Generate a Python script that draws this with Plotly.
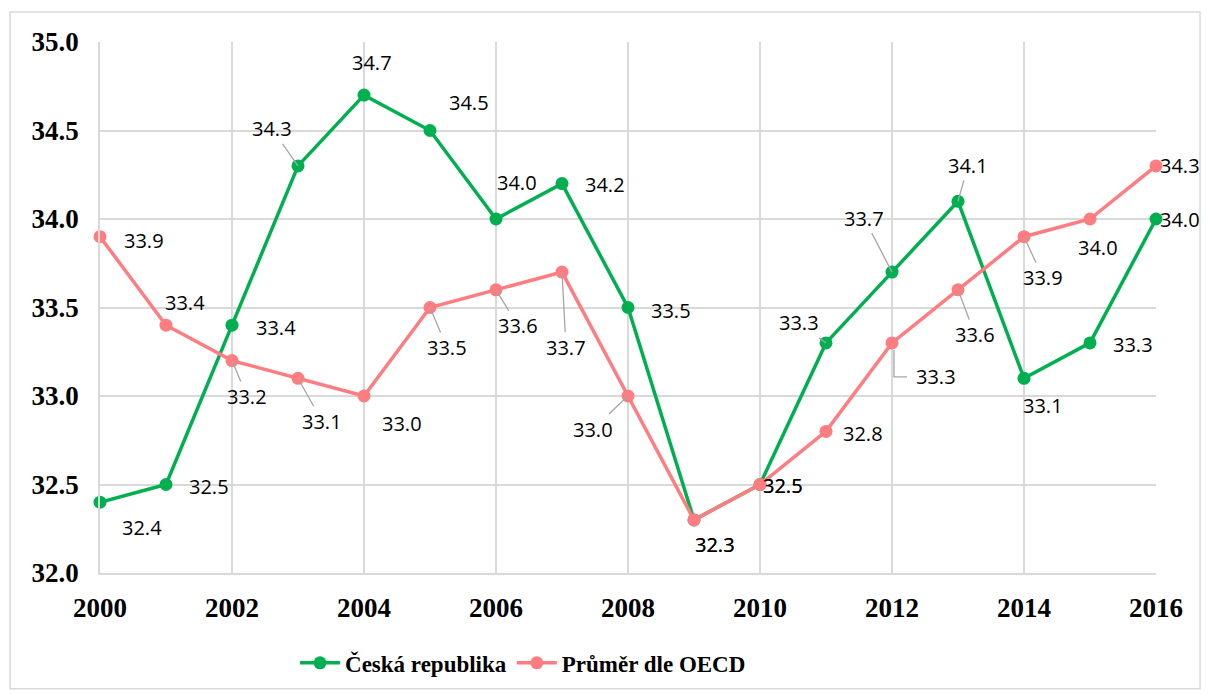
import plotly.graph_objects as go

years = list(range(2000, 2017))
cz = [32.4, 32.5, 33.4, 34.3, 34.7, 34.5, 34.0, 34.2, 33.5, 32.3, 32.5, 33.3, 33.7, 34.1, 33.1, 33.3, 34.0]
oecd = [33.9, 33.4, 33.2, 33.1, 33.0, 33.5, 33.6, 33.7, 33.0, 32.3, 32.5, 32.8, 33.3, 33.6, 33.9, 34.0, 34.3]
names = ["Česká republika", "Průměr dle OECD"]
colors = ["#00B050", "#FF7C80"]

# label placement (pixel offsets dx, dy-down, leader: 0 none, 1 straight, 2 elbow)
cz_pos = [(42, 25, 0), (43, 2, 0), (44, 2, 0), (-26, -37, 1), (8, -33, 0), (39, -28, 0),
          (21, -37, 0), (43, 1, 0), (43, 3, 0), (21, 25, 0), (23, 1, 0), (-27, -20, 1),
          (-28, -54, 1), (10, -36, 1), (19, 27, 0), (43, 2, 0), (24, 0, 0)]
oecd_pos = [(44, 4, 0), (19, -23, 0), (15, 36, 1), (24, 43, 1), (38, 27, 0), (17, 40, 1),
            (22, 36, 1), (4, 75, 1), (-35, 33, 1), (21, 25, 0), (23, 1, 0), (37, 2, 0),
            (44, 34, 2), (17, 45, 1), (19, 41, 1), (8, 28, 0), (24, 0, 0)]

fig = go.Figure()
for vals, name, col in [(cz, names[0], colors[0]), (oecd, names[1], colors[1])]:
    fig.add_trace(go.Scatter(x=years, y=vals, name=name, mode="lines+markers",
                             line=dict(color=col, width=3.5),
                             marker=dict(color=col, size=13), cliponaxis=False))

ann = []
shapes = [dict(type="rect", xref="paper", yref="paper",
               x0=-0.0852, x1=1.0417, y0=-0.218, y1=1.0564,
               line=dict(color="#D9D9D9", width=1.5))]
lab_font = dict(family="Open Sans", size=20, color="#000000")
for vals, pos in [(cz, cz_pos), (oecd, oecd_pos)]:
    for yr, v, (dx, dy, lead) in zip(years, vals, pos):
        txt = f"{v:.1f}"
        if lead == 1:
            ann.append(dict(x=yr, y=v, xref="x", yref="y", text=txt, showarrow=True,
                            ax=dx, ay=dy, axref="pixel", ayref="pixel", arrowhead=0,
                            arrowwidth=1.3, arrowcolor="#A6A6A6", standoff=0,
                            font=lab_font))
        else:
            ann.append(dict(x=yr, y=v, xref="x", yref="y", text=txt, showarrow=False,
                            xshift=dx, yshift=-dy, font=lab_font))
            if lead == 2:
                shapes.append(dict(type="path", xref="x", yref="y", xsizemode="pixel",
                                   ysizemode="pixel", xanchor=yr, yanchor=v,
                                   path=f"M 2 -7 L 2 {-dy} L {dx - 29} {-dy}",
                                   line=dict(color="#A6A6A6", width=1.3)))

fig.update_layout(
    width=1201, height=687,
    margin=dict(l=92, r=53, t=34, b=121),
    paper_bgcolor="white", plot_bgcolor="white",
    annotations=ann,
    shapes=shapes,
    xaxis=dict(range=[2000, 2016], tickmode="array", tickvals=list(range(2000, 2017, 2)),
               showgrid=True, gridcolor="#D9D9D9", gridwidth=1.5,
               showline=True, linecolor="#D9D9D9", linewidth=1.5, zeroline=False,
               ticks="", ticklabelstandoff=10,
               tickfont=dict(family="Liberation Serif", size=27, color="#000000",
                             weight="bold")),
    yaxis=dict(range=[32, 35], tickmode="array", tickvals=[32, 32.5, 33, 33.5, 34, 34.5, 35],
               ticktext=["32.0", "32.5", "33.0", "33.5", "34.0", "34.5", "35.0"],
               showgrid=True, gridcolor="#D9D9D9", gridwidth=1.5,
               showline=True, linecolor="#D9D9D9", linewidth=1.5, zeroline=False,
               ticks="", ticklabelstandoff=14,
               tickfont=dict(family="Liberation Serif", size=27, color="#000000",
                             weight="bold")),
    legend=dict(orientation="h", x=0.4006, xanchor="center", y=-0.167, yanchor="middle",
                font=dict(family="Liberation Serif", size=23, color="#000000", weight="bold"),
                itemwidth=40),
)

fig.write_html("out.html")
